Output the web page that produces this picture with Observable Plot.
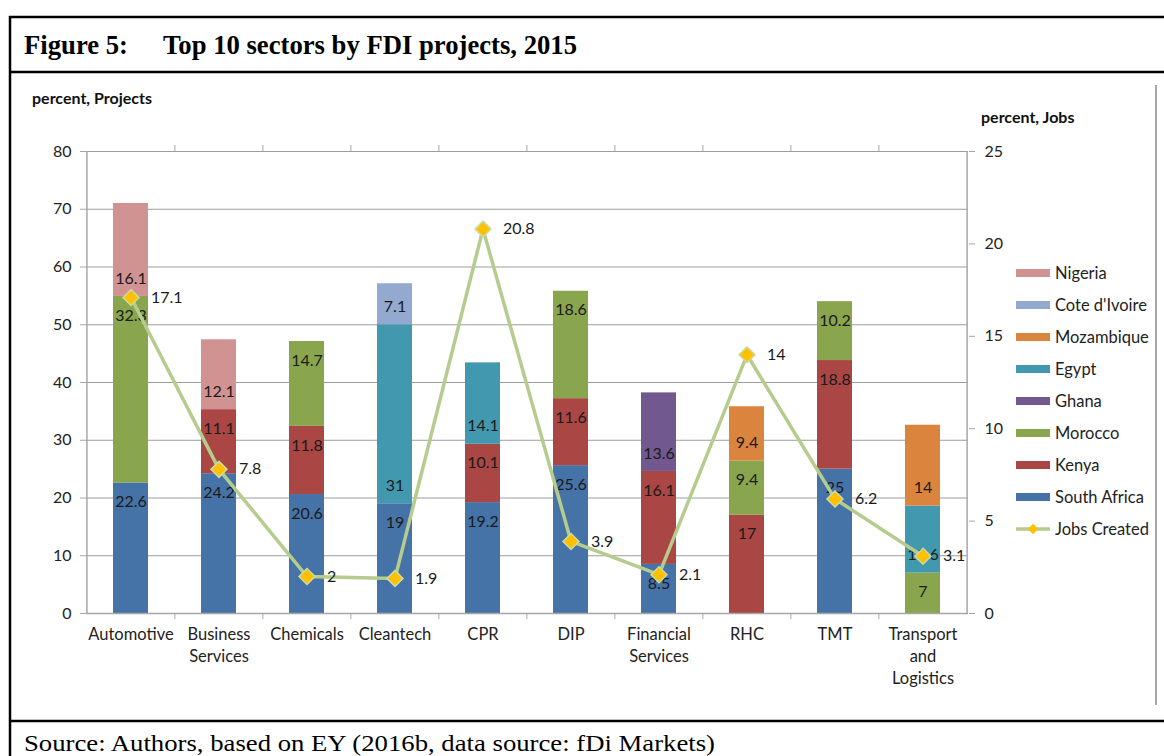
<!DOCTYPE html>
<html>
<head>
<meta charset="utf-8">
<script src="https://cdn.jsdelivr.net/npm/d3@7"></script>
<script src="https://cdn.jsdelivr.net/npm/@observablehq/plot@0.6"></script>
<style>
  body { margin: 0; background: #fff; }
  #page { position: relative; width: 1164px; height: 756px; overflow: hidden; font-family: Lato, sans-serif; color: #222; }
  #frame { position: absolute; left: 0; top: 0; }
  #chart { position: absolute; left: 10px; top: 72px; }
  .axtitle { position: absolute; font-weight: bold; font-size: 16px; color: #111; white-space: nowrap; }
  #legend { position: absolute; left: 1016px; top: 263px; font-size: 16.5px; color: #222; }
  .lg { position: relative; height: 32px; line-height: 20px; white-space: nowrap; }
  .lg svg { position: absolute; left: 0; top: 0; }
  .lg span { position: absolute; left: 39px; top: 0px; }
</style>
</head>
<body>
<div id="page">
  <svg id="frame" width="1164" height="756"></svg>
  <div id="chart"></div>
  <div class="axtitle" style="left:32px; top:88px;">percent, Projects</div>
  <div class="axtitle" style="left:981px; top:107px;">percent, Jobs</div>
  <div id="legend"></div>
</div>
<script>
// ---------- data ----------
const sectors = ["Automotive", "Business Services", "Chemicals", "Cleantech", "CPR", "DIP",
                 "Financial Services", "RHC", "TMT", "Transport and Logistics"];
const sectorLabels = ["Automotive", "Business\nServices", "Chemicals", "Cleantech", "CPR", "DIP",
                      "Financial\nServices", "RHC", "TMT", "Transport\nand\nLogistics"];

// stacking order, bottom to top
const countries = ["South Africa", "Kenya", "Morocco", "Ghana", "Egypt", "Mozambique", "Cote d'Ivoire", "Nigeria"];
const countryColors = ["#4572A7", "#AA4643", "#89A54E", "#71588F", "#4198AF", "#DB843D", "#93A9CF", "#D19392"];
const legendOrder = ["Nigeria", "Cote d'Ivoire", "Mozambique", "Egypt", "Ghana", "Morocco", "Kenya", "South Africa"];

// percent of projects by sector (0 = not listed)
const southAfrica = [22.6, 24.2, 20.6, 19, 19.2, 25.6, 8.5, 0, 25, 0];
const kenya       = [0, 11.1, 11.8, 0, 10.1, 11.6, 16.1, 17, 18.8, 0];
const morocco     = [32.3, 0, 14.7, 0, 0, 18.6, 0, 9.4, 10.2, 7];
const ghana       = [0, 0, 0, 0, 0, 0, 13.6, 0, 0, 0];
const egypt       = [0, 0, 0, 31, 14.1, 0, 0, 0, 0, 11.6];
const mozambique  = [0, 0, 0, 0, 0, 0, 0, 9.4, 0, 14];
const coteDIvoire = [0, 0, 0, 7.1, 0, 0, 0, 0, 0, 0];
const nigeria     = [16.1, 12.1, 0, 0, 0, 0, 0, 0, 0, 0];

// percent of jobs created (right axis)
const jobsCreated = [17.1, 7.8, 2, 1.9, 20.8, 3.9, 2.1, 14, 6.2, 3.1];

const projectTicks = [0, 10, 20, 30, 40, 50, 60, 70, 80];
const jobsTicks = [0, 5, 10, 15, 20, 25];
const labelAtTop = ["South Africa", "Kenya", "Morocco"]; // other series labelled at segment base

// ---------- build tables ----------
const seriesValues = {
  "South Africa": southAfrica, "Kenya": kenya, "Morocco": morocco, "Ghana": ghana,
  "Egypt": egypt, "Mozambique": mozambique, "Cote d'Ivoire": coteDIvoire, "Nigeria": nigeria
};
const rows = countries.flatMap(c => sectors.map((s, i) => ({sector: s, country: c, value: seriesValues[c][i]})))
                      .filter(d => d.value > 0);
const jobsRows = sectors.map((s, i) => ({sector: s, jobs: jobsCreated[i]}));
const toLeft = j => j * 80 / 25;   // map jobs axis (0–25) onto projects axis (0–80)

const AX = "#a6a6a6";
const stackBase = {x: "sector", y: "value", z: "country", order: countries};

const chart = Plot.plot({
  width: 1150,
  height: 640,
  marginLeft: 76,
  marginRight: 192,
  marginTop: 79,
  marginBottom: 99,
  style: {fontFamily: "Lato, sans-serif", fontSize: "16px", color: "#222", background: "transparent"},
  x: {domain: sectors, paddingInner: 0.6, paddingOuter: 0.3, label: null},
  y: {domain: [0, 80], label: null},
  color: {domain: countries, range: countryColors},
  marks: [
    Plot.gridY(projectTicks, {stroke: "#9c9c9c", strokeOpacity: 1}),
    Plot.barY(rows, Plot.stackY({...stackBase, fill: "country"})),
    Plot.text(rows, Plot.stackY2({...stackBase, text: d => labelAtTop.includes(d.country) ? String(d.value) : "", dy: 19, fill: "#1a1a1a"})),
    Plot.text(rows, Plot.stackY1({...stackBase, text: d => labelAtTop.includes(d.country) ? "" : String(d.value), dy: -18, fill: "#1a1a1a"})),
    // axes lines
    Plot.ruleY([0], {stroke: AX, strokeWidth: 1.5}),
    Plot.ruleX([sectors[0]], {x: d => d, y1: 0, y2: 80, dx: -44.1, stroke: AX, strokeWidth: 1.5}),
    Plot.ruleX([sectors[sectors.length - 1]], {x: d => d, y1: 0, y2: 80, dx: 44.1, stroke: AX, strokeWidth: 1.5}),
    // category boundary ticks (bottom and top)
    Plot.ruleX(sectors.slice(1), {x: d => d, y1: 0, y2: 0, insetTop: 6, dx: -44.1, stroke: AX}),
    Plot.ruleX(sectors.slice(1), {x: d => d, y1: 80, y2: 80, insetBottom: 6, dx: -44.1, stroke: AX}),
    Plot.axisY(projectTicks, {anchor: "left", tickSize: 6, tickPadding: 9, stroke: AX, fill: "#222", label: null}),
    Plot.axisY(jobsTicks.map(toLeft), {anchor: "right", tickSize: 6, tickPadding: 10, stroke: AX, fill: "#222",
      tickFormat: d => d * 25 / 80, label: null}),
    Plot.axisX({tickSize: 0, tickPadding: 11, lineHeight: 1.32, fontSize: 16.5, fill: "#222",
      tickFormat: d => sectorLabels[sectors.indexOf(d)], label: null}),
    // jobs created line
    Plot.line(jobsRows, {x: "sector", y: d => toLeft(d.jobs), stroke: "#b5cc8e", strokeWidth: 3.5}),
    Plot.dot(jobsRows, {x: "sector", y: d => toLeft(d.jobs), symbol: "diamond2", r: 7.2,
      fill: "#FFC000", stroke: "#c9dba6", strokeWidth: 1.5}),
    Plot.text(jobsRows, {x: "sector", y: d => toLeft(d.jobs), text: d => String(d.jobs),
      textAnchor: "start", dx: 20, fill: "#1a1a1a"})
  ]
});
document.getElementById("chart").appendChild(chart);

// ---------- legend ----------
const legend = d3.select("#legend");
legendOrder.forEach(c => {
  const row = legend.append("div").attr("class", "lg");
  const s = row.append("svg").attr("width", 36).attr("height", 20);
  s.append("rect").attr("x", 0).attr("y", 6).attr("width", 34).attr("height", 8)
    .attr("fill", countryColors[countries.indexOf(c)]);
  row.append("span").text(c);
});
{
  const row = legend.append("div").attr("class", "lg");
  const s = row.append("svg").attr("width", 36).attr("height", 20);
  s.append("line").attr("x1", 0).attr("x2", 34).attr("y1", 10).attr("y2", 10)
    .attr("stroke", "#b5cc8e").attr("stroke-width", 3.5);
  s.append("path").attr("d", d3.symbol(d3.symbolDiamond2, 70)()).attr("transform", "translate(17,10)")
    .attr("fill", "#FFC000");
  row.append("span").text("Jobs Created");
}

// ---------- frame, title, source ----------
const f = d3.select("#frame");
f.append("line").attr("x1", 9).attr("x2", 1164).attr("y1", 17).attr("y2", 17).attr("stroke", "#000").attr("stroke-width", 2.5);
f.append("line").attr("x1", 9).attr("x2", 1164).attr("y1", 72).attr("y2", 72).attr("stroke", "#000").attr("stroke-width", 2.5);
f.append("line").attr("x1", 9).attr("x2", 1164).attr("y1", 721).attr("y2", 721).attr("stroke", "#000").attr("stroke-width", 2.5);
f.append("line").attr("x1", 10).attr("x2", 10).attr("y1", 16).attr("y2", 756).attr("stroke", "#000").attr("stroke-width", 2.5);
f.append("line").attr("x1", 1156).attr("x2", 1156).attr("y1", 85).attr("y2", 705).attr("stroke", "#a6a6a6").attr("stroke-width", 2);
f.append("text").attr("x", 24).attr("y", 54).attr("font-family", "Liberation Serif, serif").attr("font-weight", "bold")
  .attr("font-size", 27).attr("textLength", 104).attr("lengthAdjust", "spacingAndGlyphs").text("Figure 5:");
f.append("text").attr("x", 163).attr("y", 54).attr("font-family", "Liberation Serif, serif").attr("font-weight", "bold")
  .attr("font-size", 27).attr("textLength", 414).attr("lengthAdjust", "spacingAndGlyphs").text("Top 10 sectors by FDI projects, 2015");
f.append("text").attr("x", 24).attr("y", 751).attr("font-family", "Liberation Serif, serif")
  .attr("font-size", 23).attr("textLength", 691).attr("lengthAdjust", "spacingAndGlyphs")
  .text("Source: Authors, based on EY (2016b, data source: fDi Markets)");
</script>
</body>
</html>
